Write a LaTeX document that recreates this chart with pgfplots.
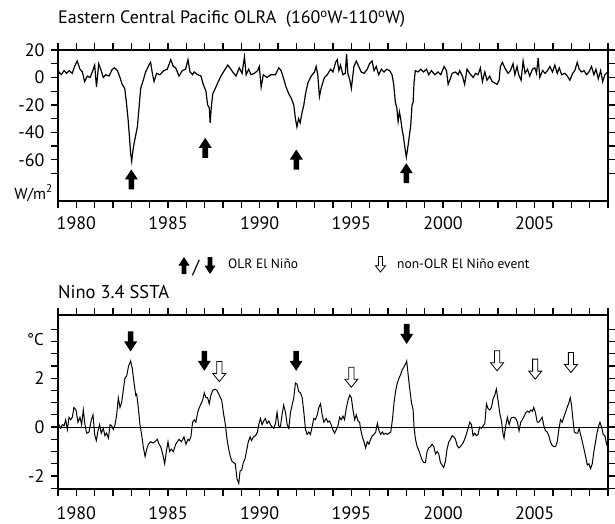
\documentclass[border=0pt]{standalone}
\usepackage{fontspec}
\setmainfont{PT Sans}
\usepackage{pgfplots}
\pgfplotsset{compat=1.18}

\tikzset{
 solidup/.pic={\fill[black] (0pt,0pt) -- (6.5pt,-10pt) -- (2.8pt,-10pt) -- (2.8pt,-20pt) -- (-2.8pt,-20pt) -- (-2.8pt,-10pt) -- (-6.5pt,-10pt) -- cycle;},
 soliddown/.pic={\fill[black] (0pt,0pt) -- (6.5pt,10pt) -- (2.8pt,10pt) -- (2.8pt,20pt) -- (-2.8pt,20pt) -- (-2.8pt,10pt) -- (-6.5pt,10pt) -- cycle;},
 hollowdown/.pic={\filldraw[fill=white, draw=black, line width=0.8pt] (0pt,0pt) -- (6.5pt,8pt) -- (2.6pt,8pt) -- (2.6pt,20pt) -- (-2.6pt,20pt) -- (-2.6pt,8pt) -- (-6.5pt,8pt) -- cycle;},
}

\pgfplotsset{
 myax/.style={
  scale only axis, width=550pt,
  xmin=1979, xmax=2009,
  axis line style={line width=1.3pt},
  tick style={black, line width=1.2pt},
  tick align=outside,
  major tick length=7pt, minor tick length=7pt,
  xtick={1980,1985,...,2005},
  minor xtick={1979,1980,...,2009},
  ticklabel style={font=\fontsize{18}{20}\selectfont},
  yticklabel style={xshift=-3pt},
  /pgf/number format/assume math mode=true,
  /pgf/number format/1000 sep={},
 }
}

\begin{document}
\begin{tikzpicture}
\path[use as bounding box] (0pt,0pt) rectangle (615pt,-524pt);

\begin{axis}[myax, at={(58pt,-50pt)}, anchor=north west, height=151pt,
  xticklabel style={yshift=-5pt},
  ymin=-90, ymax=20, ytick={-60,-40,...,20}, minor ytick={-70,-60,...,10}]
\addplot[black, line width=1.2pt] table {
1978.96 0
1979.05 4
1979.18 2
1979.33 5
1979.47 3
1979.6 5
1979.78 3
1979.9 8
1980.05 12
1980.2 6
1980.33 4
1980.45 -3
1980.6 1
1980.75 0
1980.87 4
1981.0 9
1981.1 -7
1981.22 10
1981.33 6
1981.47 0
1981.6 2
1981.78 1
1981.96 6
1982.09 7
1982.24 5
1982.38 0
1982.5 -5
1982.64 -8
1982.73 -18
1982.82 -30
1982.89 -42
1982.96 -55
1983.02 -61
1983.07 -55
1983.15 -48
1983.24 -42
1983.33 -36
1983.42 -22
1983.51 -8
1983.65 -2
1983.78 4
1983.96 9
1984.05 11
1984.16 2
1984.24 -3
1984.38 3
1984.56 2
1984.78 5
1984.96 6
1985.15 13
1985.29 8
1985.42 7
1985.6 1
1985.78 5
1985.96 6
1986.09 13
1986.2 4
1986.34 2
1986.43 4
1986.62 2
1986.8 1
1986.92 -5
1987.07 -10
1987.16 -20
1987.25 -22
1987.3 -33
1987.36 -22
1987.44 -12
1987.58 -8
1987.71 -4
1987.89 1
1988.07 5
1988.26 9
1988.38 7
1988.53 4
1988.71 1
1988.89 7
1989.04 3
1989.17 15
1989.26 2
1989.4 6
1989.53 2
1989.71 3
1989.89 5
1989.98 8
1990.08 -7
1990.2 2
1990.39 0
1990.62 2
1990.86 2
1991.04 7
1991.17 5
1991.31 -1
1991.44 -7
1991.59 -12
1991.72 -15
1991.86 -20
1991.95 -30
1992.03 -36
1992.12 -30
1992.21 -33
1992.32 -25
1992.41 -20
1992.5 -12
1992.63 -4
1992.81 1
1992.99 4
1993.08 8
1993.17 2
1993.26 -14
1993.35 -8
1993.53 0
1993.69 2
1993.87 6
1994.0 4
1994.14 11
1994.23 13
1994.32 5
1994.41 9
1994.54 2
1994.67 3
1994.74 17
1994.81 3
1994.92 -2
1995.0 -8
1995.14 8
1995.27 12
1995.4 8
1995.54 4
1995.69 3
1995.87 6
1995.99 10
1996.13 12
1996.24 5
1996.36 8
1996.49 2
1996.64 6
1996.78 4
1996.93 6
1997.09 5
1997.22 2
1997.31 -5
1997.4 -18
1997.48 -22
1997.55 -32
1997.62 -25
1997.69 -30
1997.77 -38
1997.84 -43
1997.91 -50
1998.0 -58
1998.09 -50
1998.17 -42
1998.24 -35
1998.31 -20
1998.37 -18
1998.42 -4
1998.49 5
1998.64 4
1998.79 6
1998.93 4
1999.1 6
1999.22 2
1999.37 5
1999.55 2
1999.73 4
1999.88 2
2000.06 8
2000.19 5
2000.28 -5
2000.37 -2
2000.5 3
2000.68 4
2000.83 2
2000.91 5
2001.06 1
2001.18 -5
2001.31 6
2001.46 3
2001.64 0
2001.78 3
2001.91 2
2002.04 7
2002.15 -3
2002.28 4
2002.4 -2
2002.55 1
2002.68 -3
2002.82 -4
2002.95 -5
2003.06 -2
2003.13 8
2003.24 11
2003.37 7
2003.55 3
2003.68 5
2003.82 10
2003.92 2
2004.04 8
2004.13 2
2004.26 -2
2004.37 12
2004.48 3
2004.61 6
2004.73 1
2004.88 6
2005.01 7
2005.1 3
2005.19 14
2005.28 0
2005.43 5
2005.57 3
2005.7 5
2005.83 8
2005.97 4
2006.1 9
2006.23 3
2006.34 7
2006.47 2
2006.65 3
2006.78 1
2006.92 -2
2007.07 3
2007.19 5
2007.32 11
2007.43 6
2007.56 4
2007.69 5
2007.83 2
2007.96 4
2008.1 8
2008.23 2
2008.34 6
2008.47 -1
2008.6 5
2008.71 -3
2008.83 2
2008.98 4
};
\pic at (axis cs:1983.0,-67) {solidup};
\pic at (axis cs:1987.03,-44) {solidup};
\pic at (axis cs:1992.0,-52.5) {solidup};
\pic at (axis cs:1998.0,-62.5) {solidup};
\end{axis}

\begin{axis}[myax, at={(58pt,-315pt)}, anchor=north west, height=174pt,
  xticklabel style={yshift=-7pt},
  ymin=-2.53, ymax=4.58, ytick={-2,0,2}, minor ytick={-2.5,-2,...,4}]
\addplot[black, line width=0.7pt] coordinates {(1979,0) (2009,0)};
\addplot[black, line width=1.0pt] table {
1978.96 0.0
1979.05 0.1
1979.15 -0.05
1979.24 0.1
1979.33 0.05
1979.42 0.3
1979.51 -0.1
1979.6 0.4
1979.69 0.3
1979.78 0.4
1979.87 0.8
1979.98 0.7
1980.09 0.2
1980.2 0.4
1980.29 0.1
1980.38 0.7
1980.47 0.1
1980.56 -0.25
1980.69 -0.2
1980.82 0.3
1980.91 0.5
1981.0 -0.3
1981.09 -0.55
1981.18 -0.15
1981.27 0.1
1981.36 -0.25
1981.47 -0.05
1981.56 -0.35
1981.65 -0.25
1981.75 -0.45
1981.84 0.1
1981.93 0.05
1982.02 -0.1
1982.11 0.1
1982.2 0.5
1982.29 1.2
1982.38 0.8
1982.47 1.0
1982.56 1.5
1982.65 2.0
1982.75 2.1
1982.85 2.5
1982.96 2.7
1983.05 2.4
1983.15 1.8
1983.24 1.3
1983.29 1.35
1983.38 0.8
1983.47 0.1
1983.56 -0.3
1983.65 -0.8
1983.75 -1.2
1983.84 -0.9
1983.93 -0.7
1984.05 -0.6
1984.18 -0.65
1984.29 -0.6
1984.42 -0.5
1984.51 -0.7
1984.6 -0.8
1984.71 -1.1
1984.82 -1.5
1984.91 -1.0
1985.0 -0.6
1985.09 -1.0
1985.18 -0.9
1985.29 -1.0
1985.42 -0.7
1985.51 -0.6
1985.6 -0.5
1985.73 -0.6
1985.87 -0.4
1985.98 -0.7
1986.09 -0.5
1986.16 -0.55
1986.25 -0.4
1986.34 0.2
1986.43 0.3
1986.52 0.2
1986.62 0.6
1986.71 0.8
1986.8 0.95
1986.89 1.1
1986.98 1.4
1987.07 1.2
1987.16 1.2
1987.25 0.95
1987.34 1.3
1987.44 1.5
1987.56 1.55
1987.67 1.5
1987.8 1.3
1987.93 1.1
1988.02 0.6
1988.13 0.1
1988.22 -0.5
1988.31 -0.9
1988.4 -1.2
1988.49 -1.4
1988.58 -1.45
1988.67 -1.5
1988.76 -2.1
1988.86 -2.3
1988.93 -1.8
1989.02 -1.75
1989.11 -1.45
1989.2 -1.3
1989.29 -0.95
1989.38 -0.6
1989.48 -0.4
1989.55 -0.55
1989.66 -0.4
1989.77 -0.35
1989.88 -0.2
1989.95 0.1
1990.04 0.35
1990.13 0.1
1990.22 0.25
1990.31 0.35
1990.4 0.15
1990.5 0.25
1990.59 0.1
1990.68 0.0
1990.77 -0.05
1990.86 0.15
1990.95 0.6
1991.04 0.05
1991.13 0.0
1991.22 0.5
1991.31 0.9
1991.41 0.6
1991.5 0.1
1991.59 -0.05
1991.68 0.6
1991.77 0.9
1991.86 1.2
1991.95 1.8
1992.04 1.75
1992.13 1.45
1992.23 1.4
1992.32 1.2
1992.41 0.6
1992.5 -0.1
1992.59 -0.3
1992.68 -0.2
1992.77 -0.3
1992.86 0.0
1992.95 0.35
1993.04 0.3
1993.14 0.5
1993.23 0.8
1993.32 0.95
1993.41 0.5
1993.5 0.2
1993.63 0.35
1993.72 0.2
1993.81 0.25
1993.9 0.1
1993.99 -0.1
1994.09 -0.25
1994.18 -0.1
1994.27 0.05
1994.36 0.4
1994.45 0.3
1994.54 0.45
1994.63 0.3
1994.72 0.75
1994.82 1.1
1994.91 1.3
1995.0 1.2
1995.09 0.7
1995.18 0.3
1995.27 0.5
1995.36 0.25
1995.45 0.2
1995.51 -0.1
1995.6 -0.4
1995.69 -0.6
1995.78 -0.85
1995.87 -0.6
1995.96 -0.7
1996.05 -0.5
1996.15 -0.35
1996.24 -0.3
1996.33 -0.2
1996.42 0.15
1996.51 -0.15
1996.6 -0.3
1996.69 -0.2
1996.78 -0.3
1996.87 -0.25
1996.96 -0.3
1997.05 -0.25
1997.15 -0.2
1997.24 0.3
1997.33 1.0
1997.42 1.5
1997.51 1.8
1997.6 2.0
1997.69 2.15
1997.78 2.35
1997.87 2.45
1997.97 2.6
1998.02 2.7
1998.09 2.2
1998.18 1.6
1998.28 1.0
1998.37 0.7
1998.42 0.0
1998.5 -0.5
1998.59 -0.8
1998.68 -0.95
1998.77 -1.15
1998.86 -1.35
1998.95 -1.45
1999.04 -1.45
1999.13 -1.0
1999.22 -0.85
1999.32 -0.8
1999.41 -0.7
1999.5 -0.8
1999.59 -1.1
1999.68 -1.0
1999.77 -1.1
1999.86 -1.45
1999.95 -1.55
2000.04 -1.65
2000.13 -1.4
2000.22 -0.9
2000.32 -0.6
2000.41 -0.5
2000.5 -0.35
2000.59 -0.4
2000.68 -0.5
2000.77 -0.75
2000.86 -0.85
2000.95 -0.8
2001.0 -0.75
2001.09 -0.65
2001.18 -0.5
2001.27 -0.3
2001.37 -0.05
2001.46 0.2
2001.55 0.1
2001.64 -0.35
2001.73 -0.25
2001.82 -0.35
2001.91 -0.3
2002.0 0.0
2002.09 -0.05
2002.19 0.05
2002.28 0.15
2002.37 0.95
2002.46 0.75
2002.55 0.7
2002.64 0.8
2002.73 1.15
2002.82 1.3
2002.91 1.55
2003.0 1.1
2003.1 0.55
2003.19 0.25
2003.28 -0.3
2003.33 -0.45
2003.42 0.05
2003.51 0.4
2003.61 0.1
2003.7 0.35
2003.79 0.4
2003.88 0.4
2003.97 0.35
2004.06 0.2
2004.15 -0.15
2004.24 0.2
2004.33 0.3
2004.43 0.45
2004.52 0.6
2004.61 0.65
2004.7 0.6
2004.79 0.7
2004.88 0.65
2004.95 0.8
2005.04 0.6
2005.14 0.2
2005.23 0.2
2005.32 0.3
2005.41 0.4
2005.5 0.05
2005.59 -0.15
2005.68 -0.2
2005.77 -0.35
2005.86 -0.6
2005.96 -0.75
2006.05 -0.8
2006.14 -0.8
2006.23 -0.6
2006.32 -0.1
2006.41 0.3
2006.5 0.2
2006.59 0.4
2006.68 0.6
2006.77 0.8
2006.87 1.0
2006.94 1.2
2007.01 0.9
2007.09 0.3
2007.16 -0.2
2007.25 -0.25
2007.34 -0.25
2007.43 -0.05
2007.5 -0.3
2007.6 -0.6
2007.69 -0.9
2007.78 -1.2
2007.87 -1.55
2007.96 -1.5
2008.05 -1.7
2008.14 -1.5
2008.23 -1.0
2008.32 -0.6
2008.41 -0.2
2008.51 0.1
2008.56 0.2
2008.65 0.0
2008.74 -0.3
2008.83 -0.35
2008.92 -0.7
2008.98 -0.6
};
\pic at (axis cs:1982.96,3.09) {soliddown};
\pic at (axis cs:1986.98,2.3) {soliddown};
\pic at (axis cs:1991.99,2.3) {soliddown};
\pic at (axis cs:1998.02,3.4) {soliddown};
\pic at (axis cs:1987.8,1.86) {hollowdown};
\pic at (axis cs:1995.0,1.63) {hollowdown};
\pic at (axis cs:2002.95,2.3) {hollowdown};
\pic at (axis cs:2005.03,1.96) {hollowdown};
\pic at (axis cs:2006.98,2.23) {hollowdown};
\end{axis}

\node[anchor=base west, inner sep=0pt, font=\fontsize{18}{20}\selectfont] at (58pt,-24pt)
  {Eastern Central Pacific OLRA\ \ (160\textsuperscript{o}W-110\textsuperscript{o}W)};
\node[anchor=base east, inner sep=0pt, font=\fontsize{16}{18}\selectfont] at (53pt,-199pt)
  {W/m\textsuperscript{2}};
\node[anchor=base west, inner sep=0pt, font=\fontsize{18.5}{20}\selectfont] at (58pt,-298pt)
  {Nino 3.4 SSTA};
\node[anchor=base east, inner sep=0pt, font=\fontsize{17}{18}\selectfont] at (44pt,-345pt)
  {°C};
% legend row
\pic[scale=0.85] at (184pt,-257pt) {solidup};
\node[anchor=base, inner sep=0pt, font=\fontsize{19}{20}\selectfont] at (196pt,-273pt) {/};
\pic[scale=0.85] at (210pt,-274pt) {soliddown};
\node[anchor=base west, inner sep=0pt, font=\fontsize{13.5}{16}\selectfont] at (228pt,-268pt) {OLR El Niño};
\pic[scale=0.78] at (380.5pt,-272pt) {hollowdown};
\node[anchor=base west, inner sep=0pt, font=\fontsize{13.5}{16}\selectfont] at (397pt,-268pt) {non-OLR El Niño event};
\end{tikzpicture}
\end{document}
